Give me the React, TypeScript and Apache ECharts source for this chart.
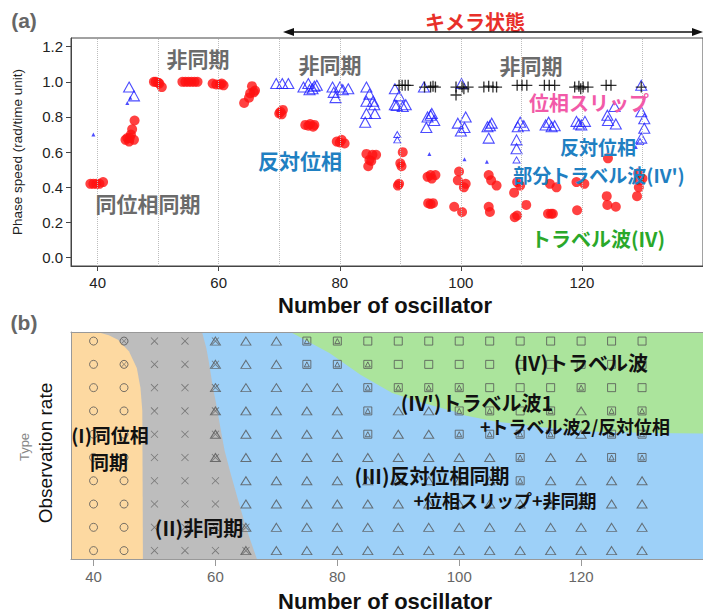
import React, { useEffect, useRef } from "react";
import * as echarts from "echarts";

// ---------- Panel (a) data ----------
const redPoints: [number, number][] = [
  [38.8, 0.42], [39.3, 0.42], [39.8, 0.42], [40.3, 0.42], [40.9, 0.43],
  [44.6, 0.67], [44.9, 0.68], [45.2, 0.66], [45.5, 0.7], [45.7, 0.73], [46.0, 0.67], [46.1, 0.78], [45.3, 0.68],
  [49.3, 1.0], [49.6, 1.0], [50.2, 0.99], [50.6, 0.97], [50.0, 0.995],
  [54.0, 1.0], [54.5, 1.0], [55.0, 1.0], [55.5, 1.0], [56.0, 1.0], [56.5, 1.0],
  [59.0, 0.99], [59.6, 0.985], [60.2, 0.985], [60.8, 0.98], [60.5, 0.99],
  [64.2, 0.88], [65.0, 0.91], [65.2, 0.935], [65.5, 0.975], [66.0, 0.95], [65.8, 0.94],
  [70.0, 0.82], [70.2, 0.83], [70.6, 0.84], [70.4, 0.815],
  [74.3, 0.755], [74.8, 0.75], [75.1, 0.76], [75.6, 0.745], [75.8, 0.755],
  [79.5, 0.66], [80.0, 0.655], [80.3, 0.67], [80.8, 0.65],
  [84.4, 0.59], [84.9, 0.556], [84.7, 0.52], [85.4, 0.585], [85.2, 0.55], [86.0, 0.585],
  [90.4, 0.6], [90.0, 0.537], [90.2, 0.52], [89.8, 0.42], [89.6, 0.41],
  [94.5, 0.46], [95.0, 0.47], [95.8, 0.47], [95.2, 0.45], [94.6, 0.31], [95.4, 0.31], [95.0, 0.305],
  [99.7, 0.49], [99.5, 0.44], [100.8, 0.42], [100.5, 0.4], [98.9, 0.29], [100.2, 0.26],
  [104.6, 0.47], [105.0, 0.44], [105.9, 0.41], [104.6, 0.29], [104.8, 0.26],
  [109.3, 0.43], [108.8, 0.37], [109.8, 0.41], [110.8, 0.3], [109.3, 0.24], [108.9, 0.23],
  [114.7, 0.42], [115.8, 0.4], [114.4, 0.25], [115.2, 0.25], [114.9, 0.25],
  [119.1, 0.43], [120.4, 0.42], [119.2, 0.27],
  [124.3, 0.565], [124.1, 0.35], [124.2, 0.3], [125.6, 0.29],
  [129.3, 0.48], [130.0, 0.45], [129.4, 0.4], [129.1, 0.35], [129.5, 0.44],
];

const blueTriangles: [number, number][] = [
  [45.2, 0.97], [46.0, 0.92],
  [69.5, 0.99], [70.5, 0.99], [71.5, 0.99],
  [74.0, 0.97], [74.8, 0.99], [75.5, 0.96], [76.2, 0.98], [75.0, 0.955], [75.8, 0.975],
  [78.8, 0.97], [80.0, 0.97], [81.4, 0.96], [79.0, 0.94], [79.3, 0.91], [80.5, 0.955],
  [84.4, 0.97], [84.9, 0.93], [84.4, 0.89], [85.5, 0.89], [84.4, 0.82], [84.2, 0.77], [85.7, 0.87], [85.8, 0.82],
  [89.1, 0.96], [89.8, 0.92], [89.1, 0.87], [90.4, 0.86], [89.4, 0.865], [90.9, 0.87],
  [93.9, 0.97], [95.2, 0.82], [94.5, 0.8], [95.6, 0.78], [94.3, 0.74], [95.0, 0.81],
  [100.1, 0.99], [99.5, 0.765], [100.8, 0.8], [100.6, 0.74], [100.0, 0.72],
  [104.4, 0.745], [105.1, 0.765], [104.6, 0.68], [104.8, 0.75],
  [109.4, 0.745], [109.2, 0.67], [109.2, 0.62], [109.8, 0.77], [110.4, 0.75],
  [114.0, 0.755], [115.0, 0.745], [114.5, 0.77], [115.5, 0.75],
  [119.1, 0.775], [119.9, 0.755], [120.5, 0.775], [119.5, 0.76],
  [124.3, 0.78], [124.2, 0.81], [125.6, 0.76], [125.4, 0.86],
  [129.8, 0.98], [129.8, 0.83], [130.3, 0.79], [130.3, 0.736], [129.8, 0.68],
];

const blueSmallTriangles: [number, number][] = [
  [89.5, 0.7], [89.5, 0.67], [109.2, 0.556], [129.6, 0.66],
];

const blueDots: [number, number][] = [
  [39.3, 0.7], [44.9, 0.88], [45.4, 0.91], [94.8, 0.59], [100.6, 0.56], [104.3, 0.546], [128.9, 0.63],
];

const blackCrosses: [number, number][] = [
  [89.8, 0.98], [90.3, 0.98], [90.8, 0.98], [91.3, 0.98],
  [94.0, 0.97], [95.0, 0.97], [95.8, 0.97], [95.4, 0.975],
  [99.2, 0.97], [99.2, 0.925], [100.2, 0.97], [101.2, 0.97], [100.5, 0.96],
  [103.8, 0.97], [104.6, 0.975], [105.3, 0.97], [105.9, 0.97],
  [109.3, 0.98], [110.1, 0.98], [110.9, 0.98],
  [113.8, 0.98], [114.6, 0.98], [115.5, 0.98],
  [118.8, 0.97], [119.5, 0.975], [120.2, 0.97], [121.0, 0.97], [119.8, 0.96],
  [124.0, 0.98], [124.8, 0.98],
  [129.8, 0.97],
];

const topXTicks = [40, 60, 80, 100, 120];
const topYTicks = [0, 0.2, 0.4, 0.6, 0.8, 1.0, 1.2];
const topGridLines = [40, 50, 60, 70, 80, 90, 100, 110, 120, 130];

// ---------- Panel (b) data ----------
const bottomCols = [40, 45, 50, 55, 60, 65, 70, 75, 80, 85, 90, 95, 100, 105, 110, 115, 120, 125, 130];
// rows listed top to bottom; o=circle, x=cross, t=triangle, s=square, combos overlap
const bottomRows: string[][] = [
  ["o", "ox", "x", "x", "tx", "t", "t", "st", "st", "s", "s", "s", "s", "s", "s", "s", "s", "s", "s"],
  ["o", "ox", "x", "x", "tx", "t", "t", "st", "st", "st", "s", "s", "s", "s", "s", "s", "s", "s", "s"],
  ["o", "o", "x", "x", "tx", "t", "t", "t", "t", "st", "st", "st", "st", "s", "s", "s", "st", "s", "s"],
  ["o", "o", "x", "x", "tx", "t", "t", "t", "t", "st", "t", "t", "st", "st", "s", "st", "t", "st", "st"],
  ["o", "o", "x", "x", "tx", "t", "t", "t", "t", "st", "t", "t", "st", "st", "st", "st", "t", "st", "st"],
  ["o", "o", "x", "x", "tx", "t", "t", "t", "t", "t", "t", "t", "t", "t", "st", "t", "t", "st", "st"],
  ["o", "o", "x", "x", "x", "t", "t", "t", "t", "t", "t", "t", "t", "t", "st", "t", "t", "t", "t"],
  ["o", "o", "x", "x", "x", "t", "t", "t", "t", "t", "t", "t", "t", "t", "t", "t", "t", "t", "t"],
  ["o", "o", "x", "x", "x", "tx", "t", "t", "t", "t", "t", "t", "t", "t", "t", "t", "t", "t", "t"],
  ["o", "o", "x", "x", "x", "tx", "t", "t", "t", "t", "t", "t", "t", "t", "t", "t", "t", "t", "t"],
];
const bottomXTicks = [40, 60, 80, 100, 120];

// region boundaries (x = oscillators, y = row units)
const orangeEdge: [number, number][] = [
  [40.6, 9.39], [42.5, 9.25], [44.0, 9.06], [45.8, 8.56], [47.1, 7.84], [47.7, 6.98], [48.0, 6.0], [48.1, -0.36],
];
const blueEdge: [number, number][] = [
  [57.8, 9.39], [58.5, 8.7], [58.9, 8.13], [59.6, 6.98], [60.2, 6.2], [60.8, 5.3], [61.5, 4.3], [62.5, 3.3], [63.8, 2.1], [65.0, 1.0], [66.8, -0.36],
];
const greenEdge: [number, number][] = [
  [72.3, 9.39], [78.7, 8.49], [83.8, 7.55], [89.0, 6.77], [94.1, 6.34], [99.2, 5.98], [100.8, 5.81],
  [105.9, 5.55], [113.6, 5.3], [121.3, 5.12], [131.6, 5.05], [140, 5.03],
];

const TX0 = 35.6, TX1 = 140, TY0 = -0.047, TY1 = 1.249;
const BX0 = 36.3, BX1 = 140, BY0 = -0.36, BY1 = 9.39;

const LAT = "'Liberation Sans', Arial, sans-serif";
const JP = "'Noto Sans CJK JP', 'Noto Sans', sans-serif";
const PLUS = "path://M4.4,0H5.6V4.4H10V5.6H5.6V10H4.4V5.6H0V4.4H4.4Z";
const XTHIN = "path://M4.6,0H5.4V4.6H10V5.4H5.4V10H4.6V5.4H0V4.6H4.6Z";
const MARK = "#555";

function regionSeries(points: [number, number][], fill: string) {
  return {
    type: "custom",
    xAxisIndex: 1,
    yAxisIndex: 1,
    silent: true,
    z: 1,
    data: [[0, 0]],
    renderItem: (_p: any, api: any) => ({
      type: "polygon",
      shape: { points: points.map((pt) => api.coord(pt)) },
      style: { fill },
    }),
  };
}

function txt(x: number, y: number, text: string, fill: string, font: string, rotation = 0) {
  return {
    type: "text",
    x,
    y,
    rotation,
    z: 100,
    style: {
      text,
      fill,
      font,
      textAlign: "center",
      textVerticalAlign: "middle",
      align: "center",
      verticalAlign: "middle",
    },
  };
}

export default function App() {
  const ref = useRef<HTMLDivElement>(null);
  useEffect(() => {
    document.body.style.margin = "0";
    const chart = echarts.init(ref.current!, null, { renderer: "svg" });

    const circles: number[][] = [];
    const crosses: number[][] = [];
    const smallCrosses: number[][] = [];
    const triangles: number[][] = [];
    const smallTris: number[][] = [];
    const squares: number[][] = [];
    bottomRows.forEach((row, ri) => {
      const y = bottomRows.length - 1 - ri;
      row.forEach((code, ci) => {
        const x = bottomCols[ci];
        if (code === "o") circles.push([x, y]);
        if (code === "ox") { circles.push([x, y]); smallCrosses.push([x, y]); }
        if (code === "x") crosses.push([x, y]);
        if (code === "t") triangles.push([x, y]);
        if (code === "tx") { triangles.push([x, y]); crosses.push([x, y]); }
        if (code === "s") squares.push([x, y]);
        if (code === "st") { squares.push([x, y]); smallTris.push([x, y]); }
      });
    });

    const hollow = { color: "rgba(0,0,0,0)", borderColor: MARK, borderWidth: 1 };

    const option: any = {
      animation: false,
      grid: [
        { left: 71, top: 38, height: 228, width: 671, show: true, borderColor: "#444", borderWidth: 1, backgroundColor: "#fff" },
        { left: 71, top: 332, height: 227, width: 674, show: false },
      ],
      xAxis: [
        {
          type: "value", gridIndex: 0, min: TX0, max: TX1,
          axisLine: { show: true, onZero: false, lineStyle: { color: "#444" } },
          axisTick: { show: true, customValues: topXTicks, length: 5, lineStyle: { color: "#444" } },
          axisLabel: { customValues: topXTicks, color: "#222", fontSize: 15, fontFamily: LAT, margin: 9 },
          splitLine: { show: false },
        },
        {
          type: "value", gridIndex: 1, min: BX0, max: BX1,
          axisLine: { show: true, onZero: false, lineStyle: { color: "#999" } },
          axisTick: { show: true, customValues: bottomXTicks, length: 7, lineStyle: { color: "#999" } },
          axisLabel: { customValues: bottomXTicks, color: "#666", fontSize: 15, fontFamily: LAT, margin: 10 },
          splitLine: { show: false },
          z: 10,
        },
        {
          type: "value", gridIndex: 1, min: BX0, max: BX1, position: "top",
          axisLine: { show: true, onZero: false, lineStyle: { color: "#999" } },
          axisTick: { show: false }, axisLabel: { show: false }, splitLine: { show: false },
          z: 10,
        },
      ],
      yAxis: [
        {
          type: "value", gridIndex: 0, min: TY0, max: TY1,
          axisLine: { show: true, onZero: false, lineStyle: { color: "#444" } },
          axisTick: { show: true, customValues: topYTicks, length: 5, lineStyle: { color: "#444" } },
          axisLabel: {
            customValues: topYTicks, color: "#222", fontSize: 15, fontFamily: LAT, margin: 8,
            formatter: (v: number) => v.toFixed(1),
          },
          splitLine: { show: false },
          name: "Phase speed (rad/time unit)",
          nameLocation: "middle",
          nameGap: 47,
          nameRotate: 90,
          nameTextStyle: { color: "#222", fontSize: 13.5, fontFamily: LAT },
        },
        {
          type: "value", gridIndex: 1, min: BY0, max: BY1,
          axisLine: { show: true, onZero: false, lineStyle: { color: "#999" } },
          axisTick: { show: false }, axisLabel: { show: false }, splitLine: { show: false },
          z: 10,
        },
      ],
      series: [
        {
          type: "line", xAxisIndex: 0, yAxisIndex: 0, data: [], silent: true,
          markLine: {
            silent: true, symbol: "none", label: { show: false },
            lineStyle: { type: "dotted", color: "#bdbdbd", width: 1 },
            data: topGridLines.map((v) => ({ xAxis: v })),
          },
        },
        {
          type: "scatter", xAxisIndex: 0, yAxisIndex: 0, data: redPoints, symbol: "circle", symbolSize: 10,
          itemStyle: { color: "#ff1111" }, z: 3,
        },
        {
          type: "scatter", xAxisIndex: 0, yAxisIndex: 0, data: blueTriangles, symbol: "triangle", symbolSize: [11, 10],
          itemStyle: { color: "rgba(0,0,0,0)", borderColor: "#1f1fff", borderWidth: 1.1 }, z: 4,
        },
        {
          type: "scatter", xAxisIndex: 0, yAxisIndex: 0, data: blueSmallTriangles, symbol: "triangle", symbolSize: [7, 6],
          itemStyle: { color: "rgba(0,0,0,0)", borderColor: "#1f1fff", borderWidth: 1 }, z: 4,
        },
        {
          type: "scatter", xAxisIndex: 0, yAxisIndex: 0, data: blueDots, symbol: "triangle", symbolSize: 4,
          itemStyle: { color: "#1f1fff" }, z: 4,
        },
        {
          type: "scatter", xAxisIndex: 0, yAxisIndex: 0, data: blackCrosses, symbol: PLUS, symbolSize: 11,
          itemStyle: { color: "#000" }, z: 5,
        },
        // panel (b) regions
        regionSeries([[BX0, BY0], [BX1, BY0], [BX1, BY1], [BX0, BY1]], "#9dd0f8"),
        regionSeries([[BX0, BY1], ...blueEdge, [BX0, BY0]], "#bdbdbd"),
        regionSeries([[BX0, BY1], ...orangeEdge, [BX0, BY0]], "#fdd9a1"),
        regionSeries([...greenEdge, [BX1, BY1]], "#abe49c"),
        // panel (b) markers
        {
          type: "scatter", xAxisIndex: 1, yAxisIndex: 1, data: circles, symbol: "circle", symbolSize: 8,
          itemStyle: hollow, z: 5,
        },
        {
          type: "scatter", xAxisIndex: 1, yAxisIndex: 1, data: crosses, symbol: XTHIN, symbolSize: 10, symbolRotate: 45,
          itemStyle: { color: "#666" }, z: 5,
        },
        {
          type: "scatter", xAxisIndex: 1, yAxisIndex: 1, data: smallCrosses, symbol: XTHIN, symbolSize: 8, symbolRotate: 45,
          itemStyle: { color: "#666" }, z: 5,
        },
        {
          type: "scatter", xAxisIndex: 1, yAxisIndex: 1, data: triangles, symbol: "triangle", symbolSize: [10, 8],
          itemStyle: hollow, z: 5,
        },
        {
          type: "scatter", xAxisIndex: 1, yAxisIndex: 1, data: squares, symbol: "rect", symbolSize: 8,
          itemStyle: hollow, z: 5,
        },
        {
          type: "scatter", xAxisIndex: 1, yAxisIndex: 1, data: smallTris, symbol: "triangle", symbolSize: [5, 5],
          itemStyle: hollow, z: 5,
        },
      ],
      graphic: [
        txt(24, 20, "(a)", "#666", `bold 21px ${LAT}`),
        txt(24, 322, "(b)", "#666", `bold 21px ${LAT}`),
        txt(385, 305, "Number of oscillator", "#111", `bold 22px ${LAT}`),
        txt(385, 601, "Number of oscillator", "#111", `bold 22px ${LAT}`),
        txt(475, 21, "キメラ状態", "#e8302a", `bold 20px ${JP}`),
        { type: "line", shape: { x1: 290, y1: 32, x2: 697, y2: 32 }, style: { stroke: "#111", lineWidth: 1.5 }, z: 100 },
        { type: "polygon", shape: { points: [[283, 32], [294, 28], [294, 36]] }, style: { fill: "#111" }, z: 100 },
        { type: "polygon", shape: { points: [[703, 32], [692, 28], [692, 36]] }, style: { fill: "#111" }, z: 100 },
        txt(198, 58, "非同期", "#6b6b6b", `bold 21px ${JP}`),
        txt(330, 64, "非同期", "#6b6b6b", `bold 21px ${JP}`),
        txt(531, 65, "非同期", "#6b6b6b", `bold 21px ${JP}`),
        txt(148, 203, "同位相同期", "#6b6b6b", `bold 21px ${JP}`),
        txt(589, 102, "位相スリップ", "#f25aa8", `bold 20px ${JP}`),
        txt(300, 160, "反対位相", "#1f80c2", `bold 21px ${JP}`),
        txt(598, 146, "反対位相", "#1f80c2", `bold 19px ${JP}`),
        txt(599, 174, "部分トラベル波(IV')", "#1f80c2", `bold 19px ${JP}`),
        txt(598, 238, "トラベル波(IV)", "#2aa82a", `bold 20px ${JP}`),
        txt(24, 447, "Type", "#888", `13px ${LAT}`, Math.PI / 2),
        txt(45, 453, "Observation rate", "#111", `19px ${LAT}`, Math.PI / 2),
        txt(110, 434, "(I)同位相", "#111", `bold 19px ${JP}`),
        txt(109, 461, "同期", "#111", `bold 19px ${JP}`),
        txt(199, 527, "(II)非同期", "#111", `bold 20px ${JP}`),
        txt(581, 362, "(IV)トラベル波", "#111", `bold 20px ${JP}`),
        txt(477, 402, "(IV')トラベル波1", "#111", `bold 20px ${JP}`),
        txt(575, 426, "+トラベル波2/反対位相", "#111", `bold 18px ${JP}`),
        txt(432, 475, "(III)反対位相同期", "#111", `bold 20px ${JP}`),
        txt(505, 500, "+位相スリップ+非同期", "#111", `bold 18px ${JP}`),
      ],
    };
    chart.setOption(option);
    return () => chart.dispose();
  }, []);
  return <div ref={ref} style={{ width: 703, height: 614 }} />;
}
